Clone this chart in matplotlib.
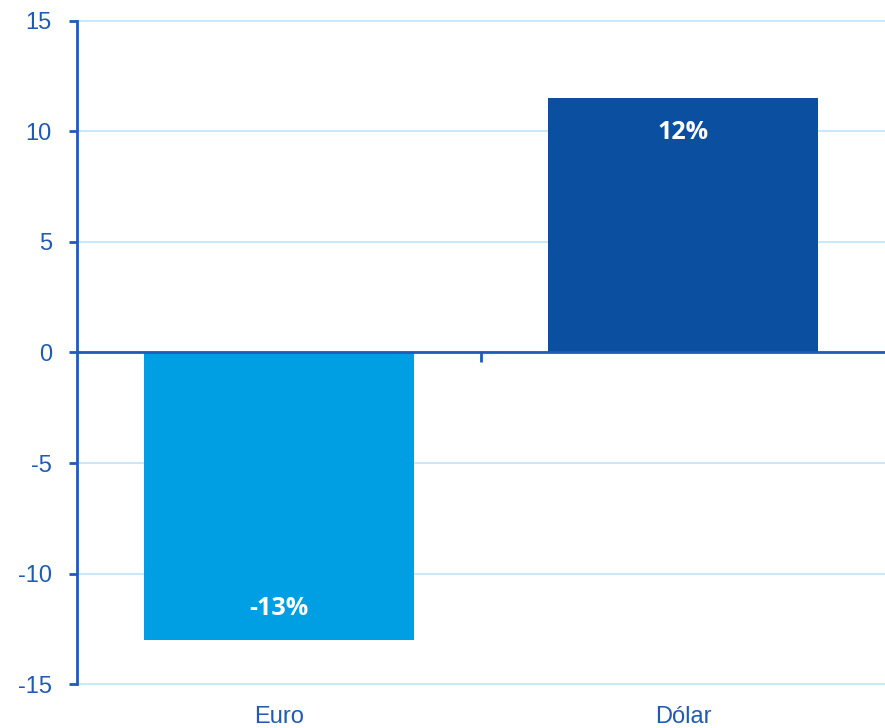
import matplotlib.pyplot as plt
from matplotlib.transforms import blended_transform_factory

# Données
categories = ['Euro', 'Dólar']
valeurs = [-13.0, 11.5]
etiquettes = ['-13%', '12%']
couleurs = ['#009FE3', '#0A4FA0']

bleu_texte = '#1F5BB0'
bleu_axe = '#1F5BB8'
bleu_grille = '#BDE6F7'

plt.rcParams['font.family'] = ['Liberation Sans', 'DejaVu Sans']
plt.rcParams['axes.unicode_minus'] = False

fig = plt.figure(figsize=(8.85, 7.28), dpi=100)
ax = fig.add_axes([0.0870, 0.0604, 0.9130, 0.9108])

positions = list(range(len(categories)))
ax.bar(positions, valeurs, width=0.667, color=couleurs, zorder=2)

ax.set_xlim(-0.5, 1.5)
ax.set_ylim(-15, 15)
ax.set_yticks(range(-15, 16, 5))
ax.yaxis.grid(True, color=bleu_grille, linewidth=1.2, zorder=0, clip_on=False)
ax.set_axisbelow(True)

for s in ['top', 'right']:
    ax.spines[s].set_visible(False)
ax.spines['left'].set_color(bleu_axe)
ax.spines['left'].set_linewidth(2)
ax.spines['bottom'].set_position(('data', 0))
ax.spines['bottom'].set_color(bleu_axe)
ax.spines['bottom'].set_linewidth(2)
ax.spines['bottom'].set_zorder(3)

ax.tick_params(axis='y', colors=bleu_axe, labelcolor=bleu_texte, labelsize=17,
               length=6, width=2, direction='out', pad=12)
ax.set_xticks([0.5])
ax.set_xticklabels([''])
ax.tick_params(axis='x', colors=bleu_axe, length=7, width=2, direction='out')

# Étiquettes des catégories sous le graphique
trans = blended_transform_factory(ax.transData, ax.transAxes)
for x, cat in zip(positions, categories):
    ax.text(x, -0.05, cat, transform=trans, ha='center', va='center',
            fontsize=17, color=bleu_texte)

# Étiquettes des valeurs dans les barres
for x, v, lab in zip(positions, valeurs, etiquettes):
    y = v - 1.55 if v > 0 else v + 1.4
    ax.text(x, y, lab, ha='center', va='center', fontsize=18,
            fontweight='bold', color='white', family=['Open Sans', 'DejaVu Sans'], zorder=4)

fig.savefig('out.png', dpi=100)
